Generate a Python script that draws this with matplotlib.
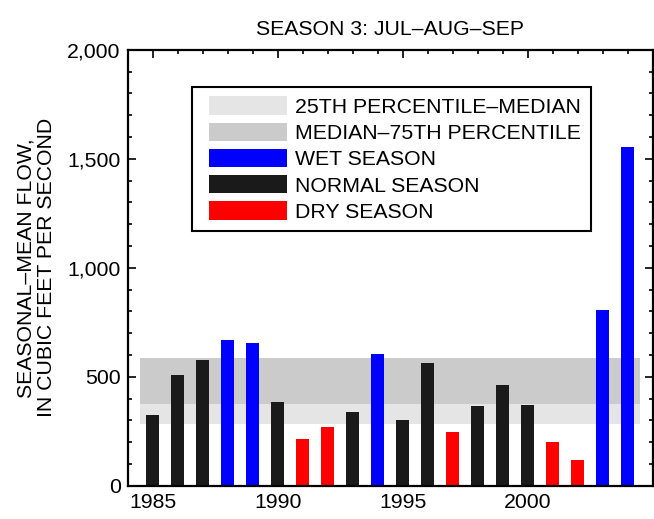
import matplotlib
matplotlib.use("Agg")
import matplotlib.pyplot as plt
from matplotlib.patches import Patch, Rectangle
from matplotlib.legend_handler import HandlerPatch
from matplotlib.ticker import MultipleLocator, FixedLocator, FuncFormatter

plt.rcParams['font.family'] = ['Liberation Sans', 'DejaVu Sans']

years = list(range(1985, 2005))
flows = [325, 507, 577, 667, 657, 383, 214, 269, 338, 603,
         301, 562, 247, 365, 461, 370, 201, 119, 805, 1555]
season = ['N', 'N', 'N', 'W', 'W', 'N', 'D', 'D', 'N', 'W',
          'N', 'N', 'D', 'N', 'N', 'N', 'D', 'D', 'W', 'W']
p25 = 284
median = 377
p75 = 584
xticks = [1985, 1990, 1995, 2000]

title = "SEASON 3: JUL\u2013AUG\u2013SEP"
ylabel = "SEASONAL\u2013MEAN FLOW,\nIN CUBIC FEET PER SECOND"
legend_labels = ["25TH PERCENTILE\u2013MEDIAN", "MEDIAN\u201375TH PERCENTILE",
                 "WET SEASON", "NORMAL SEASON", "DRY SEASON"]

c_light = '#e5e5e5'
c_dark = '#cbcbcb'
colors = {'W': '#0000ff', 'N': '#1a1a1a', 'D': '#ff0000'}
fs = 15.3

fig = plt.figure(figsize=(6.54, 5.19), dpi=100)
ax = fig.add_axes([0.195, 0.064, 0.803, 0.840])

x0 = min(years) - 0.5
x1 = max(years) + 0.5
ax.fill_between([x0, x1], p25, median, color=c_light, lw=0, zorder=1)
ax.fill_between([x0, x1], median, p75, color=c_dark, lw=0, zorder=1)

ax.bar(years, flows, width=0.52, color=[colors[s] for s in season], zorder=2)

ax.set_xlim(1984, 2005)
ax.set_ylim(0, 2000)
ax.xaxis.set_major_locator(FixedLocator(xticks))
ax.xaxis.set_minor_locator(MultipleLocator(1))
ax.yaxis.set_major_locator(MultipleLocator(500))
ax.yaxis.set_minor_locator(MultipleLocator(100))
ax.yaxis.set_major_formatter(FuncFormatter(lambda v, p: f"{int(v):,}"))
ax.tick_params(which='both', direction='in', top=True, right=True, labelsize=fs, width=1.2)
ax.tick_params(which='major', length=6, pad=5)
ax.tick_params(which='minor', length=3)
for s in ax.spines.values():
    s.set_linewidth(1.6)

ax.set_title(title, fontsize=fs, pad=11)
ax.set_ylabel(ylabel, fontsize=fs, labelpad=8, linespacing=1.1)


def offset_patch(legend, orig_handle, xdescent, ydescent, width, height, fontsize):
    off = 6
    return Rectangle((-xdescent + off, -ydescent), width - off, height)


handles = [Patch(facecolor=c_light), Patch(facecolor=c_dark),
           Patch(facecolor=colors['W']), Patch(facecolor=colors['N']),
           Patch(facecolor=colors['D'])]
leg = ax.legend(handles, legend_labels, loc='upper left', bbox_to_anchor=(0.122, 0.915),
                borderaxespad=0, fontsize=fs, handlelength=4.05, handleheight=0.95,
                handletextpad=0.38, labelspacing=0.27, borderpad=0.45,
                fancybox=False, frameon=True, framealpha=1,
                handler_map={Patch: HandlerPatch(patch_func=offset_patch)})
leg.get_frame().set_edgecolor('black')
leg.get_frame().set_linewidth(1.5)

fig.savefig('out.png', dpi=100)
